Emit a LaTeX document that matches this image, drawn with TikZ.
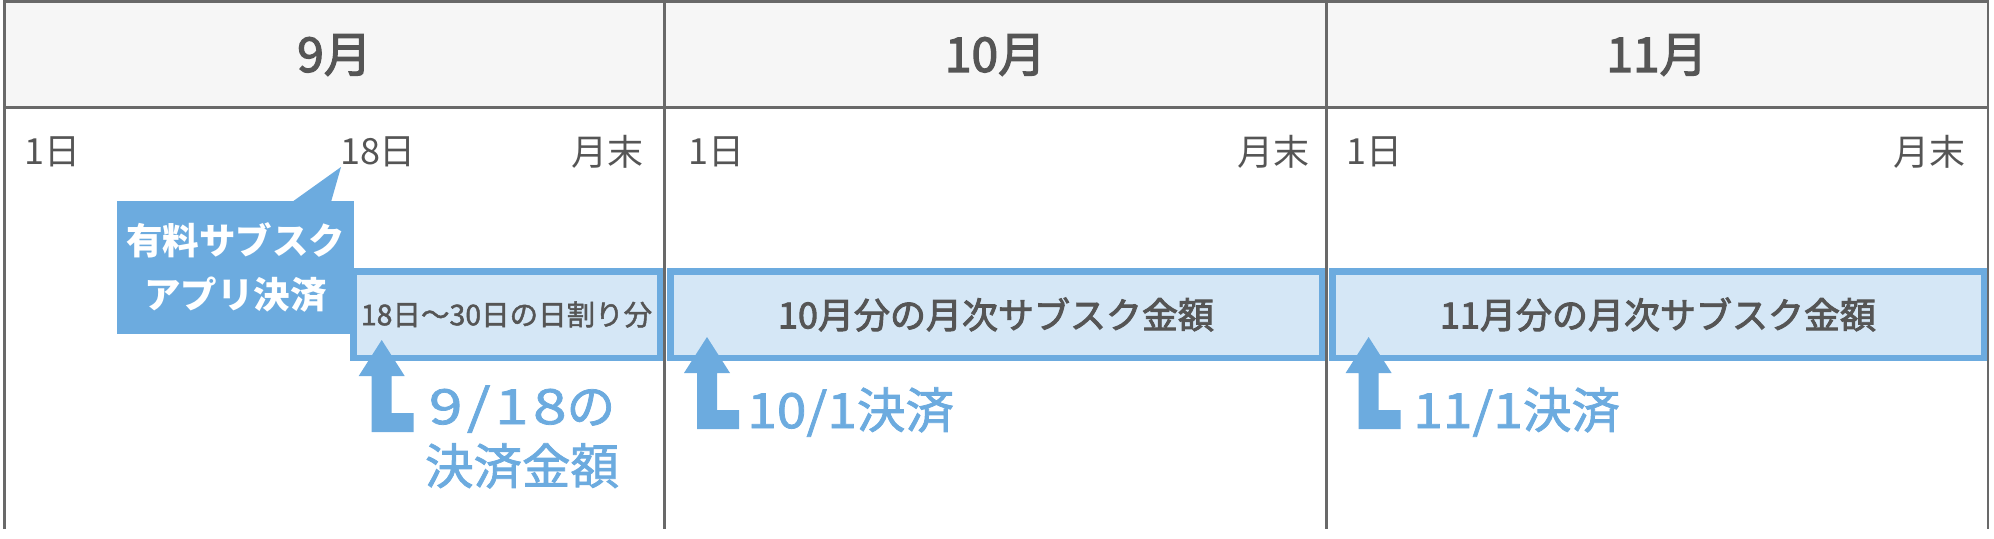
\documentclass[tikz,border=0pt]{standalone}
\usepackage{fontspec}
\setmainfont{Noto Sans CJK JP}
\newfontfamily\medfont{Noto Sans CJK JP}[FakeBold=2.6]
\newfontfamily\semifont{Noto Sans CJK JP}[FakeBold=1.6]
\newcommand\widedig[3]{{\addfontfeature{FakeStretch=#1,LetterSpace=#2}#3}}
\definecolor{framec}{RGB}{105,105,105}
\definecolor{hdrc}{RGB}{246,246,246}
\definecolor{txtc}{RGB}{85,85,85}
\definecolor{bluc}{RGB}{108,171,223}
\definecolor{lbluc}{RGB}{213,231,246}
\tikzset{
  frameline/.style={draw=framec,line width=2.6pt},
  month/.style={inner sep=0pt,text=txtc,font=\fontsize{48}{56}\selectfont\medfont},
  day/.style={inner sep=0pt,text=txtc,font=\fontsize{36}{42}\selectfont},
  bar/.style={draw=bluc,fill=lbluc,line width=6.5pt,inner sep=0pt,text=txtc,minimum height=86.5pt},
  callout/.style={fill=bluc,text=white,inner sep=0pt,align=center,minimum width=237pt,minimum height=133pt,
     font=\fontsize{36.5}{54}\selectfont\bfseries},
  paylabel/.style={inner sep=0pt,text=bluc,align=center,font=\fontsize{48.5}{60}\selectfont\semifont},
  larrow/.pic={\fill[bluc] (0,0) -- (23,36) -- (10,36) -- (10,73) -- (32,73) -- (32,92) -- (-10,92) -- (-10,36) -- (-23,36) -- cycle;}
}
\begin{document}
\begin{tikzpicture}[x=1pt,y=-1pt]
\useasboundingbox (0,0) rectangle (1994,538);
% header background
\fill[hdrc] (4.5,1.5) rectangle (1988,107.5);
% month headers
\node[month] (m9) at (334.5,55) {9月};
\node[month] (m10) at (995.5,55) {10月};
\node[month] (m11) at (1657,55) {11月};
% day labels
\node[day,anchor=west] (d1a) at (24,152) {1日};
\node[day] (d18) at (378,152) {18日};
\node[day,anchor=east] (ea) at (644,152) {月末};
\node[day,anchor=west] (d1b) at (688,152) {1日};
\node[day,anchor=east] (eb) at (1310,152) {月末};
\node[day,anchor=west] (d1c) at (1346,152) {1日};
\node[day,anchor=east] (ec) at (1966,152) {月末};
% bars
\node[bar,minimum width=306.5pt,font=\fontsize{28.5}{34}\selectfont\semifont] (bar9) at (506.5,314.5) {18日〜30日の日割り分};
\node[bar,minimum width=651.5pt,font=\fontsize{36}{42}\selectfont\medfont] (bar10) at (996,314.5) {10月分の月次サブスク金額};
\node[bar,minimum width=651.5pt,font=\fontsize{36}{42}\selectfont\medfont] (bar11) at (1658,314.5) {11月分の月次サブスク金額};
% callout
\fill[bluc] (292,202) -- (341,167) -- (331,202) -- cycle;
\node[callout] (call) at (235.5,267.5) {有料サブスク\\アプリ決済};
% arrows
\pic at (381.7,340) {larrow};
\pic at (707,337) {larrow};
\pic at (1368.6,337) {larrow};
% payment labels
\node[paylabel] (p9) at (522,437) {\widedig{1.25}{9}{9/18}の\\決済金額};
\node[paylabel,anchor=west] (p10) at (747,412) {\widedig{1.1}{0}{10/1}決済};
\node[paylabel,anchor=west] (p11) at (1413,412) {\widedig{1.1}{0}{11/1}決済};
% frame lines
\draw[frameline] (4.5,529) -- (4.5,1.5) -- (1988,1.5) -- (1988,529);
\draw[frameline] (4.5,107.5) -- (1988,107.5);
\draw[frameline] (664.5,1.5) -- (664.5,529);
\draw[frameline] (1326.5,1.5) -- (1326.5,529);
\end{tikzpicture}
\end{document}
